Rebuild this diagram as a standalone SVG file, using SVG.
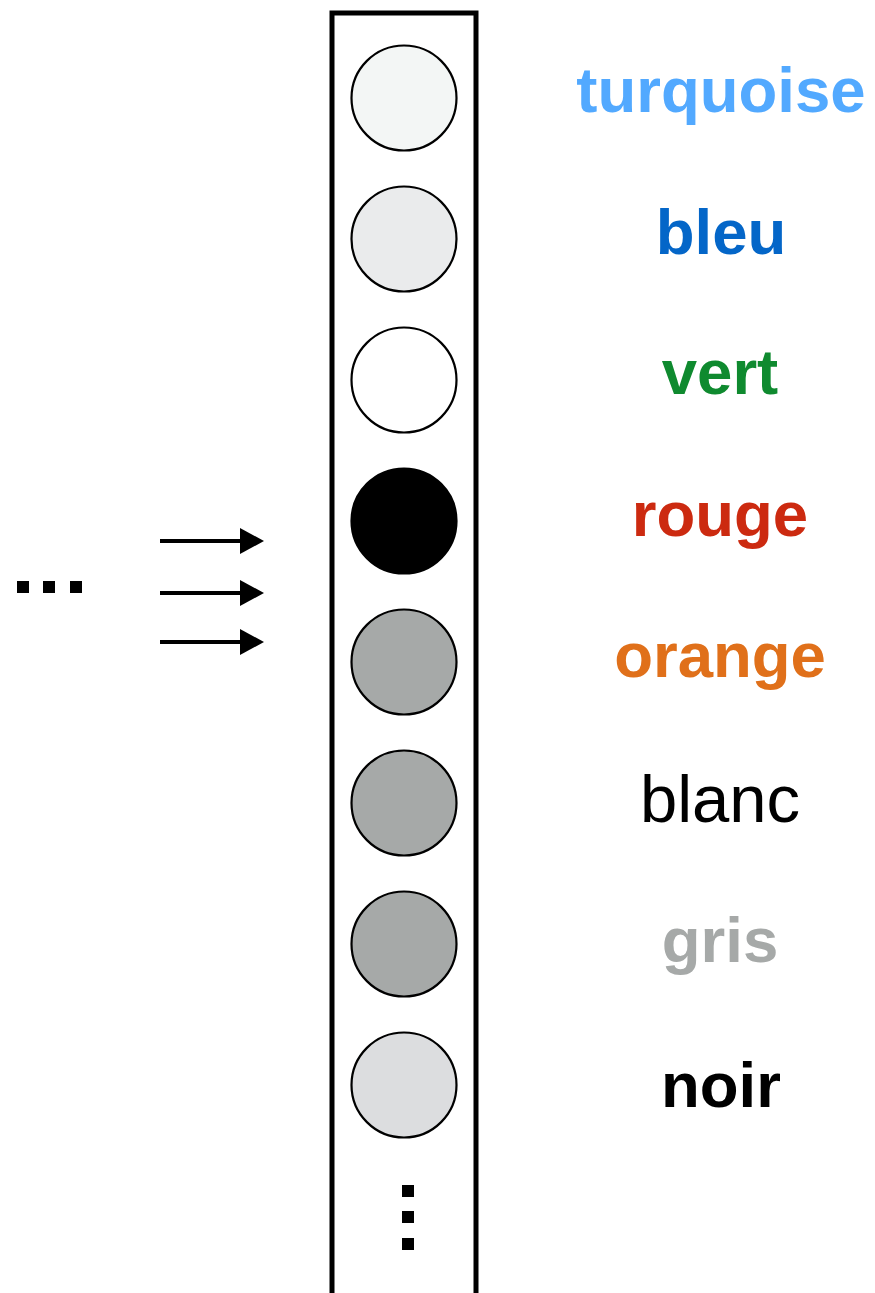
<svg xmlns="http://www.w3.org/2000/svg" width="875" height="1293" viewBox="0 0 875 1293">
<style>
.unit{stroke:#000;stroke-width:2.2}
.lbl{font-family:"Liberation Sans",Arial,sans-serif;font-size:63.5px;font-weight:bold;text-anchor:middle}
.arr{stroke:#000;stroke-width:4;fill:none}
</style>
<defs>
<marker id="ah" markerUnits="userSpaceOnUse" markerWidth="24" markerHeight="26" refX="0" refY="13" orient="auto">
<path d="M0,0 L24,13 L0,26 Z" fill="#000"/>
</marker>
</defs>
<rect width="875" height="1293" fill="#fff"/>
<g id="column">
<path d="M332,1300 V13 H476 V1300" fill="none" stroke="#000" stroke-width="5"/>
</g>
<g id="n-turquoise"><circle class="unit" cx="404" cy="98" r="52.5" fill="#f3f6f5"/><text class="lbl" x="721" y="112" fill="#52a9ff">turquoise</text></g>
<g id="n-bleu"><circle class="unit" cx="404" cy="239" r="52.5" fill="#eaebec"/><text class="lbl" x="721" y="254" fill="#0466c8">bleu</text></g>
<g id="n-vert"><circle class="unit" cx="404" cy="380" r="52.5" fill="#ffffff"/><text class="lbl" x="720" y="394" fill="#0f8a2f">vert</text></g>
<g id="n-rouge"><circle class="unit" cx="404" cy="521" r="52.5" fill="#000000"/><text class="lbl" x="720" y="536" fill="#cc2a10">rouge</text></g>
<g id="n-orange"><circle class="unit" cx="404" cy="662" r="52.5" fill="#a6a9a8"/><text class="lbl" x="720" y="677" fill="#e0701a">orange</text></g>
<g id="n-blanc"><circle class="unit" cx="404" cy="803" r="52.5" fill="#a6a9a8"/><text class="lbl" x="720" y="822" fill="#000" style="font-weight:normal;font-size:67px">blanc</text></g>
<g id="n-gris"><circle class="unit" cx="404" cy="944" r="52.5" fill="#a6a9a8"/><text class="lbl" x="720" y="962" fill="#a6a9a8">gris</text></g>
<g id="n-noir"><circle class="unit" cx="404" cy="1085" r="52.5" fill="#dcdddf"/><text class="lbl" x="721" y="1107" fill="#000">noir</text></g>
<g id="vdots" fill="#000">
<rect x="402" y="1185" width="12" height="12"/>
<rect x="402" y="1211" width="12" height="12"/>
<rect x="402" y="1238" width="12" height="12"/>
</g>
<g id="hdots" fill="#000">
<rect x="17" y="581" width="12" height="12"/>
<rect x="43" y="581" width="12" height="12"/>
<rect x="70" y="581" width="12" height="12"/>
</g>
<g id="connectors">
<line class="arr" x1="160" y1="541" x2="240" y2="541" marker-end="url(#ah)"/>
<line class="arr" x1="160" y1="593" x2="240" y2="593" marker-end="url(#ah)"/>
<line class="arr" x1="160" y1="642" x2="240" y2="642" marker-end="url(#ah)"/>
</g>
</svg>
